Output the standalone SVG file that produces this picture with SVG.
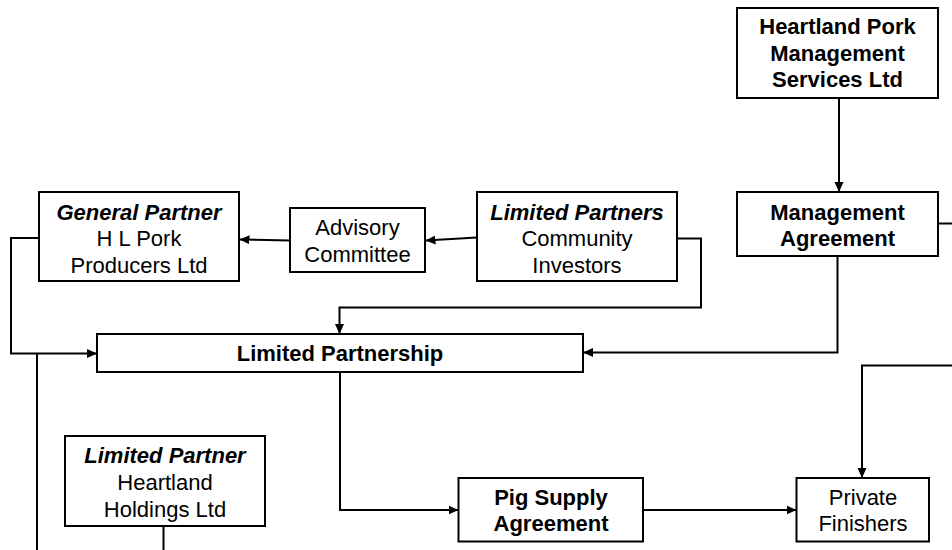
<svg xmlns="http://www.w3.org/2000/svg" width="952" height="550" viewBox="0 0 952 550">
  <style>
    .box { fill: #ffffff; stroke: #000000; stroke-width: 2; }
    .link { fill: none; stroke: #000000; stroke-width: 2; }
    text { font-family: "Liberation Sans", Arial, sans-serif; font-size: 22px; fill: #000000; text-anchor: middle; }
    .b { font-weight: bold; }
    .bi { font-weight: bold; font-style: italic; }
  </style>
  <defs>
    <marker id="arrow" viewBox="0 0 10 10" refX="10" refY="5" markerWidth="10" markerHeight="10" markerUnits="userSpaceOnUse" orient="auto">
      <path d="M0,0.5 L10,5 L0,9.5 z" fill="#000000"/>
    </marker>
  </defs>

  <rect width="952" height="550" fill="#ffffff"/>

  <g id="connectors">
    <!-- Management company to management agreement -->
    <path class="link" d="M839,98 V192" marker-end="url(#arrow)"/>
    <!-- Management agreement, right side, runs off the page -->
    <path class="link" d="M938,223.5 H952"/>
    <!-- Management agreement down to the partnership -->
    <path class="link" d="M837.5,256 V352.5 H583" marker-end="url(#arrow)"/>
    <!-- From the right margin down to the finishers -->
    <path class="link" d="M952,365.5 H862 V478" marker-end="url(#arrow)"/>
    <!-- Community investors to advisory committee -->
    <path class="link" d="M477,237.5 L425.5,240.5" marker-end="url(#arrow)"/>
    <!-- Advisory committee to general partner -->
    <path class="link" d="M290,240.5 L239.5,239.5" marker-end="url(#arrow)"/>
    <!-- Community investors round to the partnership -->
    <path class="link" d="M677,238.5 H701 V307.5 H339.5 V334" marker-end="url(#arrow)"/>
    <!-- General partner to the partnership -->
    <path class="link" d="M39,238 H11 V353.5 H97" marker-end="url(#arrow)"/>
    <!-- Line from the partnership feed down off the page -->
    <path class="link" d="M37,353.5 V550"/>
    <!-- Partnership to pig supply agreement -->
    <path class="link" d="M340,372 V510 H458.5" marker-end="url(#arrow)"/>
    <!-- Pig supply agreement to finishers -->
    <path class="link" d="M643,510 H796.5" marker-end="url(#arrow)"/>
    <!-- Heartland Holdings down off the page -->
    <path class="link" d="M163.5,526 V550"/>
  </g>

  <g id="heartland-pork">
    <rect class="box" x="737" y="8" width="201" height="90"/>
    <text class="b" x="837.5" y="33.5">Heartland Pork</text>
    <text class="b" x="837.5" y="60.5">Management</text>
    <text class="b" x="837.5" y="87">Services Ltd</text>
  </g>

  <g id="management-agreement">
    <rect class="box" x="737" y="192" width="201" height="64"/>
    <text class="b" x="837.5" y="219.5">Management</text>
    <text class="b" x="837.5" y="245.5">Agreement</text>
  </g>

  <g id="general-partner">
    <rect class="box" x="39" y="192" width="200" height="89"/>
    <text class="bi" x="139" y="219.5">General Partner</text>
    <text x="139" y="246">H L Pork</text>
    <text x="139" y="272.5">Producers Ltd</text>
  </g>

  <g id="advisory-committee">
    <rect class="box" x="290" y="208" width="135" height="64"/>
    <text x="357.5" y="235">Advisory</text>
    <text x="357.5" y="262">Committee</text>
  </g>

  <g id="limited-partners">
    <rect class="box" x="477" y="192" width="200" height="89"/>
    <text class="bi" x="577" y="219.5">Limited Partners</text>
    <text x="577" y="246">Community</text>
    <text x="577" y="272.5">Investors</text>
  </g>

  <g id="limited-partnership">
    <rect class="box" x="97" y="334" width="486" height="38"/>
    <text class="b" x="340" y="361">Limited Partnership</text>
  </g>

  <g id="limited-partner">
    <rect class="box" x="65" y="436" width="200" height="90"/>
    <text class="bi" x="165" y="463">Limited Partner</text>
    <text x="165" y="490">Heartland</text>
    <text x="165" y="516.5">Holdings Ltd</text>
  </g>

  <g id="pig-supply">
    <rect class="box" x="458.5" y="478" width="184.5" height="63.5"/>
    <text class="b" x="551" y="505">Pig Supply</text>
    <text class="b" x="551" y="531">Agreement</text>
  </g>

  <g id="private-finishers">
    <rect class="box" x="796.5" y="478" width="132.5" height="63.5"/>
    <text x="863" y="505">Private</text>
    <text x="863" y="531">Finishers</text>
  </g>
</svg>
